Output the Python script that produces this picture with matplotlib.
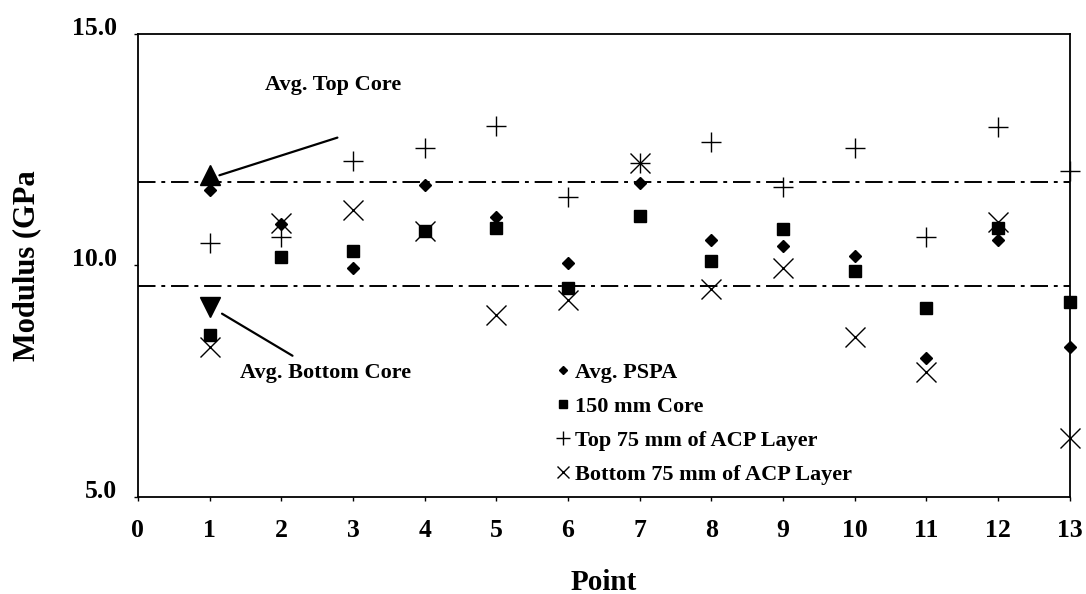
#!/usr/bin/env python3
"""Modulus by test point: PSPA vs cores vs ACP layers."""

import matplotlib
matplotlib.use("Agg")
import matplotlib.pyplot as plt
from matplotlib.transforms import ScaledTranslation

# data
points = [1, 2, 3, 4, 5, 6, 7, 8, 9, 10, 11, 12, 13]
avg_pspa = [11.62, 10.90, 9.94, 11.74, 11.04, 10.06, 11.78, 10.55, 10.43, 10.21, 8.00, 10.55, 8.25]
core_150 = [8.50, 10.18, 10.32, 10.75, 10.80, 9.52, 11.07, 10.10, 10.78, 9.88, 9.08, 10.80, 9.22]
top_75 = [10.49, 10.62, 12.26, 12.54, 13.01, 11.47, 12.21, 12.67, 11.69, 12.54, 10.62, 13.00, 12.03]
bottom_75 = [8.25, 10.91, 11.20, 10.75, 8.93, 9.25, 12.21, 9.49, 9.94, 8.46, 7.71, 10.95, 6.27]

avg_top_core = 11.81
avg_bottom_core = 9.56
top_marker = 11.95
bottom_marker = 9.10

FONT = "Liberation Serif"


def main():
    plt.rcParams["font.family"] = FONT
    plt.rcParams["font.weight"] = "bold"

    fig = plt.figure(figsize=(10.86, 5.94), dpi=100)
    ax = fig.add_axes([0.127, 0.1633, 0.858, 0.7795])

    k = dict(linestyle="none", color="black", clip_on=False)
    ax.plot(points, avg_pspa, marker="D", markersize=6, label="Avg. PSPA", **k)
    ax.plot(points, core_150, marker="s", markersize=8, label="150 mm Core", **k)
    ax.plot(points, top_75, marker="+", markersize=15, markeredgewidth=1.0,
            label="Top 75 mm of ACP Layer", **k)
    ax.plot(points, bottom_75, marker="x", markersize=14, markeredgewidth=1.0,
            label="Bottom 75 mm of ACP Layer", **k)

    # average core lines
    dashdot = (0, (9, 3, 2, 3))
    ax.axhline(avg_top_core, color="black", lw=1.4, linestyle=dashdot)
    ax.axhline(avg_bottom_core, color="black", lw=1.4, linestyle=dashdot)

    ax.plot([1], [top_marker], marker="^", markersize=14, **k)
    ax.plot([1], [bottom_marker], marker="v", markersize=14, **k)

    # callouts
    ax.annotate("", xy=(1.1, 11.93), xytext=(2.82, 12.78),
                arrowprops=dict(arrowstyle="-", color="black", lw=1.6))
    ax.text(1.77, 13.79, "Avg. Top Core", fontsize=16, fontweight="bold",
            va="baseline")
    ax.annotate("", xy=(1.14, 8.99), xytext=(2.19, 8.02),
                arrowprops=dict(arrowstyle="-", color="black", lw=1.6))
    ax.text(1.42, 7.57, "Avg. Bottom Core", fontsize=16, fontweight="bold",
            va="baseline")

    ax.set_xlim(0, 13)
    ax.set_ylim(5, 15)
    ax.set_xticks(range(0, 14))
    ax.set_yticks([5, 10, 15])
    ax.set_yticklabels(["5.0", "10.0", "15.0"])
    ax.tick_params(axis="both", labelsize=18.5, length=3, width=1)
    ax.tick_params(axis="x", pad=13)
    ax.tick_params(axis="y", pad=12)
    up = ScaledTranslation(0, 8 / 100, fig.dpi_scale_trans)
    for lab in ax.get_yticklabels():
        lab.set_transform(lab.get_transform() + up)
    for lab in ax.get_xticklabels() + ax.get_yticklabels():
        lab.set_fontweight("bold")
    for s in ax.spines.values():
        s.set_linewidth(1.3)

    ax.set_xlabel("Point", fontsize=21, fontweight="bold", labelpad=19)
    ax.set_ylabel("Modulus (GPa", fontsize=22, fontweight="bold", labelpad=22)

    ax.legend(loc="upper left", bbox_to_anchor=(0.44, 0.31), frameon=False,
              fontsize=16, handlelength=0.6, handletextpad=0.2,
              labelspacing=0.6, borderaxespad=0, markerscale=0.65)

    fig.savefig("out.png", dpi=100)


if __name__ == "__main__":
    main()
